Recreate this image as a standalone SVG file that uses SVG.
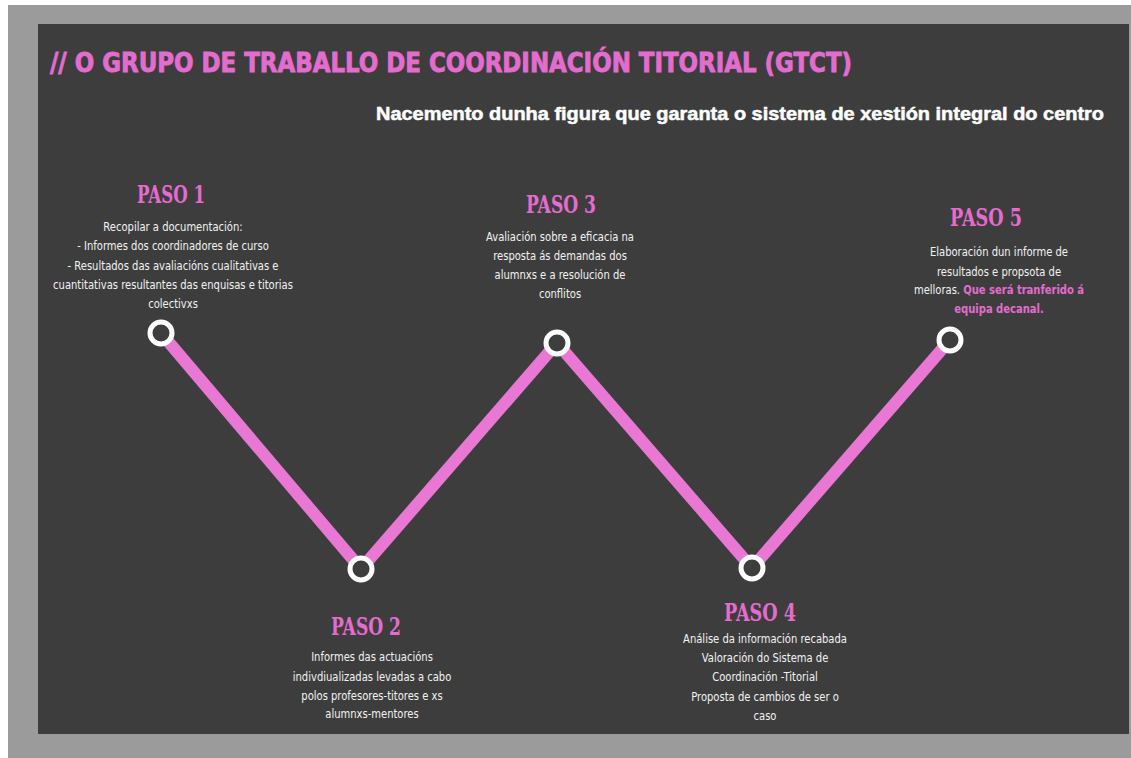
<svg xmlns="http://www.w3.org/2000/svg" width="1131" height="758" viewBox="0 0 1131 758">
<style>
.title{font-family:"DejaVu Sans","Liberation Sans",sans-serif;font-weight:bold;fill:#e46ccf;stroke:#e46ccf;stroke-width:0.9px;font-size:27px}
.sub{font-family:"Liberation Sans",Arial,sans-serif;font-weight:bold;fill:#ffffff;stroke:#ffffff;stroke-width:0.5px;font-size:18px}
.paso{font-family:"DejaVu Serif","Liberation Serif",serif;font-weight:bold;fill:#e46ccf;font-size:25px;text-anchor:middle}
.body{font-family:"DejaVu Sans","Liberation Sans",sans-serif;fill:#f2f2f2;font-size:12.5px;text-anchor:middle}
.hl{fill:#e46ccf;font-weight:bold}
.node circle{fill:#3d3d3d;stroke:#ffffff;stroke-width:5}
</style>
<rect x="0" y="0" width="1131" height="758" fill="#ffffff"/>
<rect x="8" y="5" width="1123" height="753" fill="#9b9b9b"/>
<rect x="38" y="24" width="1091" height="710" fill="#3d3d3d"/>
<text class="title" x="50" y="72" textLength="802" lengthAdjust="spacingAndGlyphs">// O GRUPO DE TRABALLO DE COORDINACIÓN TITORIAL (GTCT)</text>
<text class="sub" x="376" y="120" textLength="728" lengthAdjust="spacingAndGlyphs">Nacemento dunha figura que garanta o sistema de xestión integral do centro</text>
<g id="connectors" stroke="#e878d4" stroke-width="12" fill="none" stroke-linejoin="miter">
<polyline points="161,333 361,569 557,343 752,568 950,340"/>
</g>
<g id="paso1" class="node">
<circle cx="161" cy="333" r="11"/>
<text class="paso" x="171" y="203" textLength="68" lengthAdjust="spacingAndGlyphs">PASO 1</text>
<g transform="translate(173,0) scale(0.8,1)">
<text class="body" x="0" y="231">Recopilar a documentación:</text>
<text class="body" x="0" y="250">- Informes dos coordinadores de curso</text>
<text class="body" x="0" y="270">- Resultados das avaliacións cualitativas e</text>
<text class="body" x="0" y="289">cuantitativas resultantes das enquisas e titorias</text>
<text class="body" x="0" y="308">colectivxs</text>
</g>
</g>
<g id="paso2" class="node">
<circle cx="361" cy="569" r="11"/>
<text class="paso" x="366" y="635" textLength="70" lengthAdjust="spacingAndGlyphs">PASO 2</text>
<g transform="translate(372,0) scale(0.8,1)">
<text class="body" x="0" y="661">Informes das actuacións</text>
<text class="body" x="0" y="681">indivdiualizadas levadas a cabo</text>
<text class="body" x="0" y="700">polos profesores-titores e xs</text>
<text class="body" x="0" y="718">alumnxs-mentores</text>
</g>
</g>
<g id="paso3" class="node">
<circle cx="557" cy="343" r="11"/>
<text class="paso" x="561" y="213" textLength="70" lengthAdjust="spacingAndGlyphs">PASO 3</text>
<g transform="translate(560,0) scale(0.8,1)">
<text class="body" x="0" y="241">Avaliación sobre a  eficacia na</text>
<text class="body" x="0" y="260">resposta  ás demandas dos</text>
<text class="body" x="0" y="279">alumnxs e a resolución de</text>
<text class="body" x="0" y="298">conflitos</text>
</g>
</g>
<g id="paso4" class="node">
<circle cx="752" cy="568" r="11"/>
<text class="paso" x="760" y="621" textLength="72" lengthAdjust="spacingAndGlyphs">PASO 4</text>
<g transform="translate(765,0) scale(0.8,1)">
<text class="body" x="0" y="643">Análise da información recabada</text>
<text class="body" x="0" y="662">Valoración do Sistema de</text>
<text class="body" x="0" y="681">Coordinación -Titorial</text>
<text class="body" x="0" y="701">Proposta de cambios de ser o</text>
<text class="body" x="0" y="720">caso</text>
</g>
</g>
<g id="paso5" class="node">
<circle cx="950" cy="340" r="11"/>
<text class="paso" x="986" y="226" textLength="72" lengthAdjust="spacingAndGlyphs">PASO 5</text>
<g transform="translate(999,0) scale(0.8,1)">
<text class="body" x="0" y="256">Elaboración dun informe de</text>
<text class="body" x="0" y="276">resultados e propsota de</text>
<text class="body" x="0" y="294">melloras. <tspan class="hl">Que será tranferido á</tspan></text>
<text class="body hl" x="0" y="313">equipa decanal.</text>
</g>
</g>
</svg>
